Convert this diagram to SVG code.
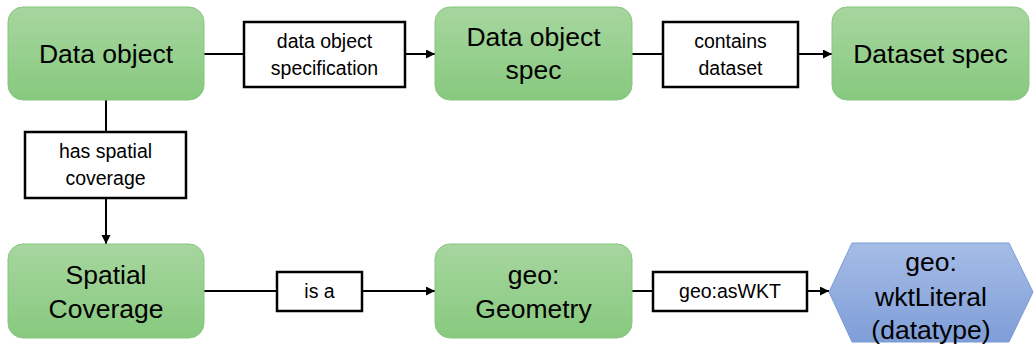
<svg xmlns="http://www.w3.org/2000/svg" width="1034" height="345" viewBox="0 0 1034 345">
  <defs>
    <linearGradient id="gGreen" x1="0" y1="0" x2="0" y2="1">
      <stop offset="0" stop-color="#a7d69f"/>
      <stop offset="1" stop-color="#87c97f"/>
    </linearGradient>
    <linearGradient id="gBlue" x1="0" y1="0" x2="0" y2="1">
      <stop offset="0" stop-color="#a6bce6"/>
      <stop offset="1" stop-color="#7f9ed8"/>
    </linearGradient>
    <marker id="arr" markerUnits="userSpaceOnUse" markerWidth="10" markerHeight="10" refX="9" refY="4.5" orient="auto">
      <path d="M0,0 L9,4.5 L0,9 z" fill="#000"/>
    </marker>
  </defs>
  <style>
    .node { fill: url(#gGreen); stroke: #86c67d; stroke-width: 1; }
    .hex { fill: url(#gBlue); stroke: #7b9bd5; stroke-width: 1; }
    .nt { font-family: "Liberation Sans", Arial, sans-serif; font-size: 26.5px; fill: #000; text-anchor: middle; }
    .lb { fill: #fff; stroke: #000; stroke-width: 2.5; }
    .lt { font-family: "Liberation Sans", Arial, sans-serif; font-size: 19.5px; fill: #000; text-anchor: middle; }
    .ln { stroke: #000; stroke-width: 2; fill: none; }
  </style>

  <g id="connectors">
    <path class="ln" d="M204,54 H244"/>
    <path class="ln" d="M405,54 H435" marker-end="url(#arr)"/>
    <path class="ln" d="M632,54 H663"/>
    <path class="ln" d="M798,54 H832" marker-end="url(#arr)"/>
    <path class="ln" d="M106,100 V132"/>
    <path class="ln" d="M106,198 V244" marker-end="url(#arr)"/>
    <path class="ln" d="M204,291 H277"/>
    <path class="ln" d="M362,291 H435" marker-end="url(#arr)"/>
    <path class="ln" d="M632,291 H653"/>
    <path class="ln" d="M807,291 H829" marker-end="url(#arr)"/>

    <g id="label-data-object-specification">
      <rect class="lb" x="244" y="22" width="161" height="65"/>
      <text class="lt" x="324.5" y="48">data object</text>
      <text class="lt" x="324.5" y="75">specification</text>
    </g>
    <g id="label-contains-dataset">
      <rect class="lb" x="663" y="22" width="135" height="65"/>
      <text class="lt" x="730.5" y="48">contains</text>
      <text class="lt" x="730.5" y="75">dataset</text>
    </g>
    <g id="label-has-spatial-coverage">
      <rect class="lb" x="25" y="132" width="161" height="66"/>
      <text class="lt" x="105.5" y="158">has spatial</text>
      <text class="lt" x="105.5" y="185">coverage</text>
    </g>
    <g id="label-is-a">
      <rect class="lb" x="277" y="272" width="85" height="39"/>
      <text class="lt" x="319.5" y="298">is a</text>
    </g>
    <g id="label-geo-asWKT">
      <rect class="lb" x="653" y="272" width="154" height="39"/>
      <text class="lt" x="730" y="298">geo:asWKT</text>
    </g>
  </g>

  <g id="node-data-object">
    <rect class="node" x="8" y="7" width="196" height="93" rx="15"/>
    <text class="nt" x="106" y="63">Data object</text>
  </g>
  <g id="node-data-object-spec">
    <rect class="node" x="435" y="7" width="197" height="93" rx="15"/>
    <text class="nt" x="533.5" y="46">Data object</text>
    <text class="nt" x="533.5" y="79">spec</text>
  </g>
  <g id="node-dataset-spec">
    <rect class="node" x="832" y="7" width="197" height="93" rx="15"/>
    <text class="nt" x="930.5" y="63">Dataset spec</text>
  </g>
  <g id="node-spatial-coverage">
    <rect class="node" x="8" y="244" width="196" height="94" rx="15"/>
    <text class="nt" x="106" y="284">Spatial</text>
    <text class="nt" x="106" y="318">Coverage</text>
  </g>
  <g id="node-geo-geometry">
    <rect class="node" x="435" y="244" width="197" height="94" rx="15"/>
    <text class="nt" x="533.5" y="284">geo:</text>
    <text class="nt" x="533.5" y="318">Geometry</text>
  </g>
  <g id="node-geo-wktLiteral">
    <polygon class="hex" points="829,292 852,243 1009,243 1033,292 1009,342 852,342"/>
    <text class="nt" x="931" y="271">geo:</text>
    <text class="nt" x="931" y="306">wktLiteral</text>
    <text class="nt" x="931" y="339">(datatype)</text>
  </g>
</svg>
